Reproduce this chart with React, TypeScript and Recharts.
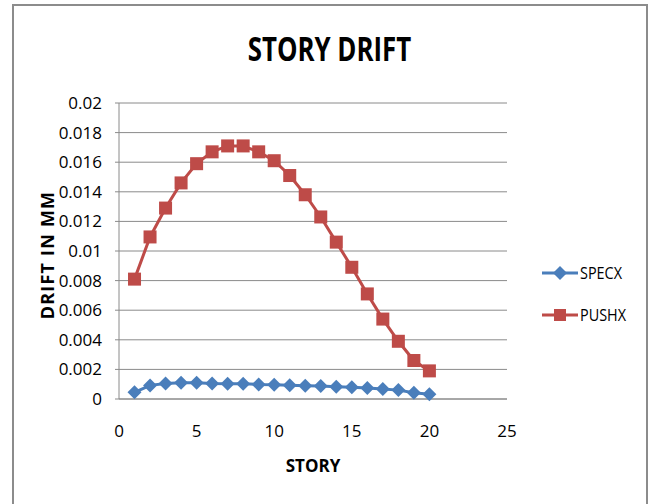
import { CartesianGrid, Line, LineChart, XAxis, YAxis } from "recharts";

const stories = [1, 2, 3, 4, 5, 6, 7, 8, 9, 10, 11, 12, 13, 14, 15, 16, 17, 18, 19, 20];
const specx = [0.00045, 0.00092, 0.00105, 0.0011, 0.0011, 0.00105, 0.00103, 0.00103, 0.00098, 0.00096, 0.00093, 0.0009, 0.00088, 0.00083, 0.0008, 0.00075, 0.00068, 0.0006, 0.00042, 0.00032];
const pushx = [0.0081, 0.01095, 0.0129, 0.0146, 0.0159, 0.0167, 0.0171, 0.0171, 0.0167, 0.0161, 0.0151, 0.0138, 0.0123, 0.0106, 0.0089, 0.0071, 0.0054, 0.0039, 0.0026, 0.0019];
const xTicks = [0, 5, 10, 15, 20, 25];
const yTicks = [0, 0.002, 0.004, 0.006, 0.008, 0.01, 0.012, 0.014, 0.016, 0.018, 0.02];
const seriesNames = ["SPECX", "PUSHX"];

const data = stories.map((s, i) => ({ story: s, SPECX: specx[i], PUSHX: pushx[i] }));

const font = "'Open Sans', sans-serif";
const blue = "#4a7ebb";
const red = "#be4b48";
const seriesColors: Record<string, string> = { SPECX: blue, PUSHX: red };

function Square(props: any) {
  const { cx, cy } = props;
  if (cx == null || cy == null) return null;
  return <rect x={cx - 6.5} y={cy - 6.5} width={13} height={13} fill={red} />;
}

function Diamond(props: any) {
  const { cx, cy } = props;
  if (cx == null || cy == null) return null;
  return <polygon points={`${cx},${cy - 7} ${cx + 7},${cy} ${cx},${cy + 7} ${cx - 7},${cy}`} fill={blue} />;
}

function LegendBox() {
  return (
    <div style={{ position: "absolute", left: 541, top: 252, fontFamily: font, fontSize: 16, color: "#000" }}>
      {seriesNames.map((name) => (
        <div key={name} style={{ display: "flex", alignItems: "center", height: 42 }}>
          <svg width={38} height={16}>
            <line x1={1} y1={8} x2={37} y2={8} stroke={seriesColors[name]} strokeWidth={3} />
            {name === "PUSHX" ? (
              <rect x={13} y={2} width={12} height={12} fill={seriesColors[name]} />
            ) : (
              <polygon points="19,1 26,8 19,15 12,8" fill={seriesColors[name]} />
            )}
          </svg>
          <span style={{ marginLeft: 1, display: "inline-block", transform: "scaleX(0.9)", transformOrigin: "left" }}>{name}</span>
        </div>
      ))}
    </div>
  );
}

export default function App() {
  return (
    <div style={{ position: "absolute", left: 0, top: 0, width: 652, height: 504, overflow: "hidden", background: "#fff" }}>
      <div style={{ position: "absolute", left: 12, top: 4, width: 632, height: 520, border: "2px solid #8c8c8c" }} />
      <div style={{ position: "absolute", left: 13, width: 633, top: 25, textAlign: "center", fontFamily: font, fontWeight: "bold", fontSize: 34, color: "#000", transform: "scaleX(0.76)" }}>
        STORY DRIFT
      </div>
      <div style={{ position: "absolute", left: 0, top: 0 }}>
        <LineChart width={652} height={504} data={data} margin={{ top: 103, right: 145, bottom: 0, left: 0 }}>
          <CartesianGrid horizontal vertical={false} stroke="#8a8a8a" strokeWidth={1} />
          <XAxis
            dataKey="story"
            type="number"
            domain={[0, 25]}
            ticks={xTicks}
            interval={0}
            height={105}
            axisLine={{ stroke: "#8a8a8a" }}
            tickLine={false}
            tickSize={0}
            tickMargin={26}
            tick={{ fill: "#000", fontSize: 17, fontFamily: font }}
            label={{ value: "STORY", position: "insideBottom", offset: 32, style: { fontFamily: font, fontWeight: "bold", fontSize: 17, fill: "#000" } }}
          />
          <YAxis
            type="number"
            domain={[0, 0.02]}
            ticks={yTicks}
            interval={0}
            width={119}
            axisLine={{ stroke: "#8a8a8a" }}
            tickLine={{ stroke: "#8a8a8a" }}
            tickSize={4}
            tickMargin={13}
            tick={{ fill: "#000", fontSize: 17, fontFamily: font }}
            label={{ value: "DRIFT IN MM", angle: -90, position: "insideLeft", offset: 48, dy: 4, style: { textAnchor: "middle", fontFamily: font, fontWeight: "bold", fontSize: 18, letterSpacing: 1.2, fill: "#000" } }}
          />
          <Line dataKey="SPECX" stroke={blue} strokeWidth={3} dot={<Diamond />} activeDot={false} isAnimationActive={false} />
          <Line dataKey="PUSHX" stroke={red} strokeWidth={3} dot={<Square />} activeDot={false} isAnimationActive={false} />
        </LineChart>
      </div>
      <LegendBox />
    </div>
  );
}
